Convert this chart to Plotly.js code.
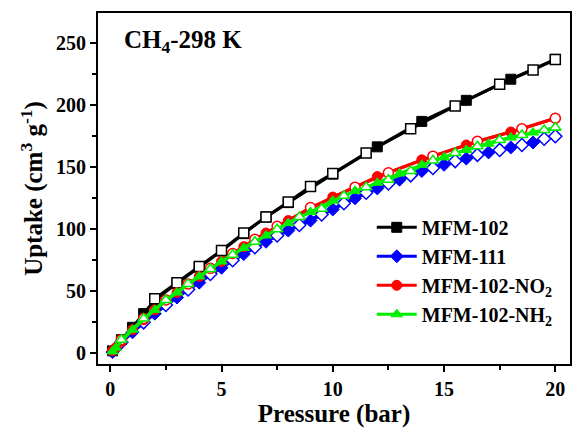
<!DOCTYPE html>
<html>
<head>
<meta charset="utf-8">
<script src="https://cdn.plot.ly/plotly-3.0.1.min.js"></script>
<style>
  html, body { margin: 0; padding: 0; background: #fff; }
  #chart { width: 572px; height: 430px; }
</style>
</head>
<body>
<div id="chart"></div>
<script>
// CH4 isotherms at 298 K: adsorption (filled markers) and desorption (open markers)

// MFM-102
const mfm102AdsP = [0.1, 0.5, 1, 1.5, 2, 3, 4, 5, 6, 7, 8, 10, 12, 14, 16, 18, 20];
const mfm102AdsU = [2, 11, 21, 32, 43, 56.5, 69.5, 82.5, 96.5, 110, 121.5, 144.5, 166.5, 187, 204, 221, 237];
const mfm102DesP = [20, 19, 17.5, 15.5, 13.5, 11.5, 10, 9, 8, 7, 6, 5, 4, 3, 2];
const mfm102DesU = [237, 228.5, 217, 199.5, 181, 161.5, 145, 134.5, 122, 110, 97, 83, 70, 57, 44];

// MFM-111
const mfm111AdsP = [0.1, 0.25, 1, 2, 3, 4, 5, 6, 7, 8, 9, 10, 11, 12, 13, 14, 15, 16, 17, 18, 19, 20];
const mfm111AdsU = [1, 4, 17, 32, 45, 57, 69, 80, 90, 99, 107, 116, 125, 133, 140, 147, 152, 157, 162, 166, 170, 175];
const mfm111DesP = [20, 19.5, 18.5, 17.5, 16.5, 15.5, 14.5, 13.5, 12.5, 11.5, 10.5, 9.5, 8.5, 7.5, 6.5, 5.5, 4.5, 3.5, 2.5, 1.5, 0.5];
const mfm111DesU = [175, 173, 168, 164, 160, 155, 149.5, 143.5, 137, 129.5, 121, 112, 103.5, 95, 85.5, 75, 64, 51.5, 39, 25, 9];

// MFM-102-NO2
const no2AdsP = [0.1, 0.25, 0.5, 1, 1.5, 2, 3, 4, 5, 6, 7, 8, 10, 12, 14, 16, 18, 20];
const no2AdsU = [2, 4.5, 9.5, 19, 27, 35, 49, 62, 74, 86, 97, 107, 126, 142.5, 156, 168, 178.5, 189.5];
const no2DesP = [20, 18.5, 16.5, 14.5, 12.5, 11, 9, 7.5, 6.5, 5.5, 4.5, 3.5, 2.5, 1.5, 0.5];
const no2DesU = [189.5, 181, 171, 159, 145.5, 134, 117.5, 102.5, 92, 80.5, 68.5, 56, 43, 28, 11];

// MFM-102-NH2
const nh2AdsP = [0.1, 0.25, 1, 2, 3, 4, 5, 6, 7, 8, 9, 10, 11, 12, 13, 14, 15, 16, 17, 18, 19, 20];
const nh2AdsU = [1.5, 4.5, 19, 35, 49, 62, 74, 85, 95, 105, 114, 123, 131, 137.5, 145, 152, 158, 164, 169, 174, 178, 182];
const nh2DesP = [20, 19.5, 18.5, 17.5, 16.5, 15.5, 14.5, 13.5, 12.5, 11.5, 10.5, 9.5, 8.5, 7.5, 6.5, 5.5, 4.5, 3.5, 2.5, 1.5, 0.5];
const nh2DesU = [182, 180, 176, 172, 167, 161.5, 155.5, 147, 140, 134, 127, 116.5, 110, 100, 90, 79.5, 68, 56, 43, 28, 11];

const seriesNames = ['MFM-102', 'MFM-111', 'MFM-102-NO<sub>2</sub>', 'MFM-102-NH<sub>2</sub>'];

const FONT = 'Liberation Serif, Times New Roman, serif';

function pair(name, color, symbol, adsP, adsU, desP, desU) {
  const common = { type: 'scatter', mode: 'lines+markers', cliponaxis: false };
  return [
    Object.assign({}, common, {
      x: adsP, y: adsU, name: name, showlegend: true,
      line: { color: color, width: 3 },
      marker: { symbol: symbol, size: 10, color: color, line: { color: color, width: 1 } }
    }),
    Object.assign({}, common, {
      x: desP, y: desU, name: name, showlegend: false,
      line: { color: color, width: 3 },
      marker: { symbol: symbol, size: 10, color: '#ffffff', line: { color: color, width: 1.5 } }
    })
  ];
}

const traces = [].concat(
  pair(seriesNames[0], '#000000', 'square', mfm102AdsP, mfm102AdsU, mfm102DesP, mfm102DesU),
  pair(seriesNames[1], '#0000ff', 'diamond', mfm111AdsP, mfm111AdsU, mfm111DesP, mfm111DesU),
  pair(seriesNames[2], '#ff0000', 'circle', no2AdsP, no2AdsU, no2DesP, no2DesU),
  pair(seriesNames[3], '#00ee00', 'triangle-up', nh2AdsP, nh2AdsU, nh2DesP, nh2DesU)
);

const axisCommon = {
  showline: true, mirror: true, linecolor: '#000', linewidth: 2,
  ticks: 'outside', ticklen: 6, tickwidth: 2, tickcolor: '#000',
  showgrid: false, zeroline: false,
  tickfont: { family: FONT, size: 20, color: '#000', weight: 'bold' },
  minor: { ticks: 'outside', ticklen: 4, tickwidth: 2, tickcolor: '#000', showgrid: false }
};

const layout = {
  width: 572, height: 430,
  margin: { l: 98, r: 2, t: 13, b: 66 },
  paper_bgcolor: '#fff', plot_bgcolor: '#fff',
  showlegend: true,
  legend: {
    x: 0.58, y: 0.445, xanchor: 'left', yanchor: 'top',
    font: { family: FONT, size: 20, color: '#000', weight: 'bold' },
    bgcolor: 'rgba(0,0,0,0)', tracegroupgap: 0, itemwidth: 40
  },
  xaxis: Object.assign({}, axisCommon, {
    range: [-0.55, 20.66], dtick: 5, tick0: 0,
    minor: Object.assign({}, axisCommon.minor, { dtick: 2.5 }),
    title: { text: 'Pressure (bar)', font: { family: FONT, size: 25, color: '#000', weight: 'bold' }, standoff: 4 }
  }),
  yaxis: Object.assign({}, axisCommon, {
    range: [-8.6, 274.4], dtick: 50, tick0: 0,
    minor: Object.assign({}, axisCommon.minor, { dtick: 25 }),
    title: { text: 'Uptake (cm<sup>3</sup> g<sup>-1</sup>)', font: { family: FONT, size: 25, color: '#000', weight: 'bold' }, standoff: 6 }
  }),
  annotations: [{
    xref: 'paper', yref: 'paper', x: 0.05, y: 0.92, xanchor: 'left', yanchor: 'middle',
    showarrow: false, text: 'CH<sub>4</sub>-298 K',
    font: { family: FONT, size: 25, color: '#000', weight: 'bold' }
  }]
};

Plotly.newPlot('chart', traces, layout, { displayModeBar: false, staticPlot: true });
</script>
</body>
</html>
